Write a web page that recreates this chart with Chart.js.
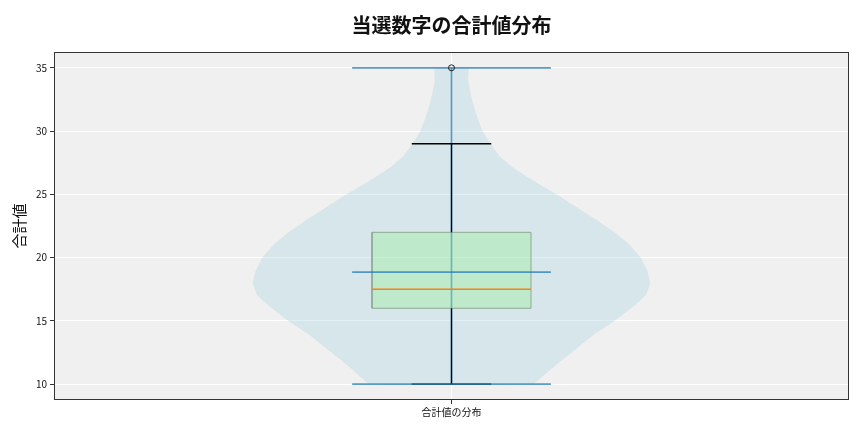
<!DOCTYPE html>
<html>
<head>
<meta charset="utf-8">
<script src="https://cdn.jsdelivr.net/npm/chart.js@4.4.1/dist/chart.umd.min.js"></script>
<style>
  html, body { margin: 0; padding: 0; background: #fff; }
  #wrap { width: 864px; height: 432px; }
</style>
</head>
<body>
<div id="wrap"><canvas id="sumChart"></canvas></div>
<script>
// Data
const categories = ['合計値の分布'];
const yTicks = [10, 15, 20, 25, 30, 35];

// violin outline: value -> half width (x-axis units)
const violinY = [10, 11, 12, 13, 14, 15, 16, 17, 18, 19, 20, 21, 22, 23, 24, 25, 26, 27, 28, 29, 30, 31, 32, 33, 34, 35];
const violinHalfWidth = [0.103, 0.122, 0.141, 0.161, 0.181, 0.205, 0.226, 0.244, 0.250, 0.246, 0.238, 0.224, 0.205, 0.182, 0.157, 0.132, 0.105, 0.080, 0.061, 0.049, 0.039, 0.033, 0.028, 0.024, 0.021, 0.021];

const minValue = 10;
const maxValue = 35;
const meanValue = 18.85;

const q1 = 16;
const median = 17.5;
const q3 = 22;
const whiskerLow = 10;
const whiskerHigh = 29;
const outliers = [35];

// Drawing sizes (x-axis units)
const pos = 1;
const lineHalf = 0.125;
const boxHalf = 0.1;
const capHalf = 0.05;

// Build violin polygon: up the right side, down the left side
const violinPts = [];
violinY.forEach((v, i) => violinPts.push({ x: pos + violinHalfWidth[i], y: v }));
for (let i = violinY.length - 1; i >= 0; i--) {
    violinPts.push({ x: pos - violinHalfWidth[i], y: violinY[i] });
}
violinPts.push({ x: pos + violinHalfWidth[0], y: violinY[0] });

function seg(x1, y1, x2, y2, color, width, order) {
    return {
        type: 'line',
        data: [{ x: x1, y: y1 }, { x: x2, y: y2 }],
        borderColor: color,
        borderWidth: width,
        pointRadius: 0,
        fill: false,
        order: order
    };
}

const blue = 'rgba(31, 119, 180, 0.72)';

const datasets = [
    {
        type: 'line',
        data: violinPts,
        borderWidth: 0,
        borderColor: 'rgba(0,0,0,0)',
        backgroundColor: 'rgba(165, 210, 225, 0.33)',
        pointRadius: 0,
        fill: 'shape',
        tension: 0.1,
        order: 10
    },
    seg(pos, minValue, pos, maxValue, blue, 1.6, 9),
    {
        type: 'line',
        data: [
            { x: pos - boxHalf, y: q1 }, { x: pos + boxHalf, y: q1 },
            { x: pos + boxHalf, y: q3 }, { x: pos - boxHalf, y: q3 },
            { x: pos - boxHalf, y: q1 }
        ],
        borderColor: '#8fa893',
        borderWidth: 1,
        backgroundColor: 'rgba(144, 238, 144, 0.35)',
        pointRadius: 0,
        fill: 'shape',
        order: 8
    },
    seg(pos, whiskerLow, pos, q1, '#000', 1.3, 7),
    seg(pos, q3, pos, whiskerHigh, '#000', 1.3, 7),
    seg(pos - capHalf, whiskerLow, pos + capHalf, whiskerLow, '#000', 1.3, 7),
    seg(pos - capHalf, whiskerHigh, pos + capHalf, whiskerHigh, '#000', 1.3, 7),
    seg(pos - boxHalf, median, pos + boxHalf, median, '#ff7f0e', 1.5, 6),
    seg(pos - lineHalf, minValue, pos + lineHalf, minValue, blue, 1.8, 5),
    seg(pos - lineHalf, maxValue, pos + lineHalf, maxValue, blue, 1.8, 5),
    seg(pos - lineHalf, meanValue, pos + lineHalf, meanValue, blue, 1.8, 5),
    {
        type: 'scatter',
        data: outliers.map(v => ({ x: pos, y: v })),
        pointRadius: 3,
        pointBorderColor: '#222',
        pointBackgroundColor: 'rgba(0,0,0,0)',
        pointBorderWidth: 1,
        order: 1
    }
];

// axes background and frame
const framePlugin = {
    id: 'frame',
    beforeDraw(chart) {
        const { ctx, chartArea: a } = chart;
        ctx.save();
        ctx.fillStyle = '#f0f0f0';
        ctx.fillRect(a.left, a.top, a.right - a.left, a.bottom - a.top);
        ctx.restore();
    },
    afterDraw(chart) {
        const { ctx, chartArea: a } = chart;
        ctx.save();
        ctx.strokeStyle = '#333';
        ctx.lineWidth = 1;
        ctx.strokeRect(a.left + 0.5, a.top + 0.5, a.right - a.left - 1, a.bottom - a.top - 1);
        ctx.restore();
    }
};

const font = '"Noto Sans CJK JP", "Noto Sans", sans-serif';

new Chart(document.getElementById('sumChart').getContext('2d'), {
    data: { datasets: datasets },
    options: {
        responsive: true,
        maintainAspectRatio: false,
        animation: false,
        events: [],
        layout: { padding: { left: 10, right: 15, top: 0, bottom: 0 } },
        plugins: {
            legend: { display: false },
            tooltip: { enabled: false },
            title: {
                display: true,
                fullSize: false,
                text: '当選数字の合計値分布',
                color: '#111',
                font: { family: font, size: 20, weight: 'bold' },
                padding: { top: 13, bottom: 15 }
            }
        },
        scales: {
            x: {
                type: 'linear',
                min: 0.5,
                max: 1.5,
                afterBuildTicks: scale => { scale.ticks = [{ value: pos }]; },
                afterFit: scale => { scale.height = 32; },
                ticks: {
                    callback: () => categories[0],
                    color: '#111',
                    font: { family: font, size: 10 },
                    padding: 2
                },
                grid: { color: '#ffffff', lineWidth: 1, tickColor: '#333', tickLength: 4 },
                border: { display: false }
            },
            y: {
                type: 'linear',
                min: 8.75,
                max: 36.25,
                afterBuildTicks: scale => { scale.ticks = yTicks.map(v => ({ value: v })); },
                afterFit: scale => { scale.width = 44; },
                ticks: {
                    color: '#111',
                    font: { family: font, size: 10 },
                    padding: 3
                },
                grid: { color: '#ffffff', lineWidth: 1, tickColor: '#333', tickLength: 4 },
                border: { display: false },
                title: {
                    display: true,
                    text: '合計値',
                    color: '#111',
                    font: { family: font, size: 15 },
                    padding: { top: 0, bottom: 2 }
                }
            }
        }
    },
    plugins: [framePlugin]
});
</script>
</body>
</html>
